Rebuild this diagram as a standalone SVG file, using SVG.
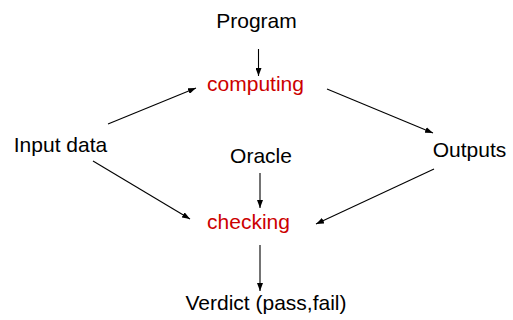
<svg xmlns="http://www.w3.org/2000/svg" width="513" height="320" viewBox="0 0 513 320">
  <defs>
    <marker id="arrow" viewBox="0 0 8 6" refX="8" refY="3" markerWidth="8" markerHeight="6" markerUnits="userSpaceOnUse" orient="auto">
      <path d="M0,0 L8,3 L0,6 Z" fill="#000"/>
    </marker>
  </defs>
  <style>
    text { font-family: "Liberation Sans", Arial, sans-serif; font-size: 21px; fill: #000; }
    .act { fill: #cc0000; }
    .edge { stroke: #000; stroke-width: 1.1; fill: none; marker-end: url(#arrow); }
  </style>
  <rect width="513" height="320" fill="#fff"/>

  <g id="edges">
    <line class="edge" x1="258.5" y1="49" x2="258.5" y2="76"/>
    <line class="edge" x1="108" y1="124" x2="196" y2="88"/>
    <line class="edge" x1="327" y1="89" x2="433" y2="133"/>
    <line class="edge" x1="93" y1="161" x2="190" y2="219"/>
    <line class="edge" x1="434" y1="169" x2="316" y2="224"/>
    <line class="edge" x1="260" y1="173" x2="260" y2="208"/>
    <line class="edge" x1="260" y1="245" x2="260" y2="291"/>
  </g>

  <g id="program"><text x="256.5" y="28" text-anchor="middle">Program</text></g>
  <g id="computing"><text class="act" x="255.5" y="91" text-anchor="middle">computing</text></g>
  <g id="input-data"><text x="60.5" y="152" text-anchor="middle">Input data</text></g>
  <g id="outputs"><text x="469.5" y="157" text-anchor="middle">Outputs</text></g>
  <g id="oracle"><text x="261" y="163" text-anchor="middle">Oracle</text></g>
  <g id="checking"><text class="act" x="248.5" y="229" text-anchor="middle">checking</text></g>
  <g id="verdict"><text x="266" y="310" text-anchor="middle">Verdict (pass,fail)</text></g>
</svg>
